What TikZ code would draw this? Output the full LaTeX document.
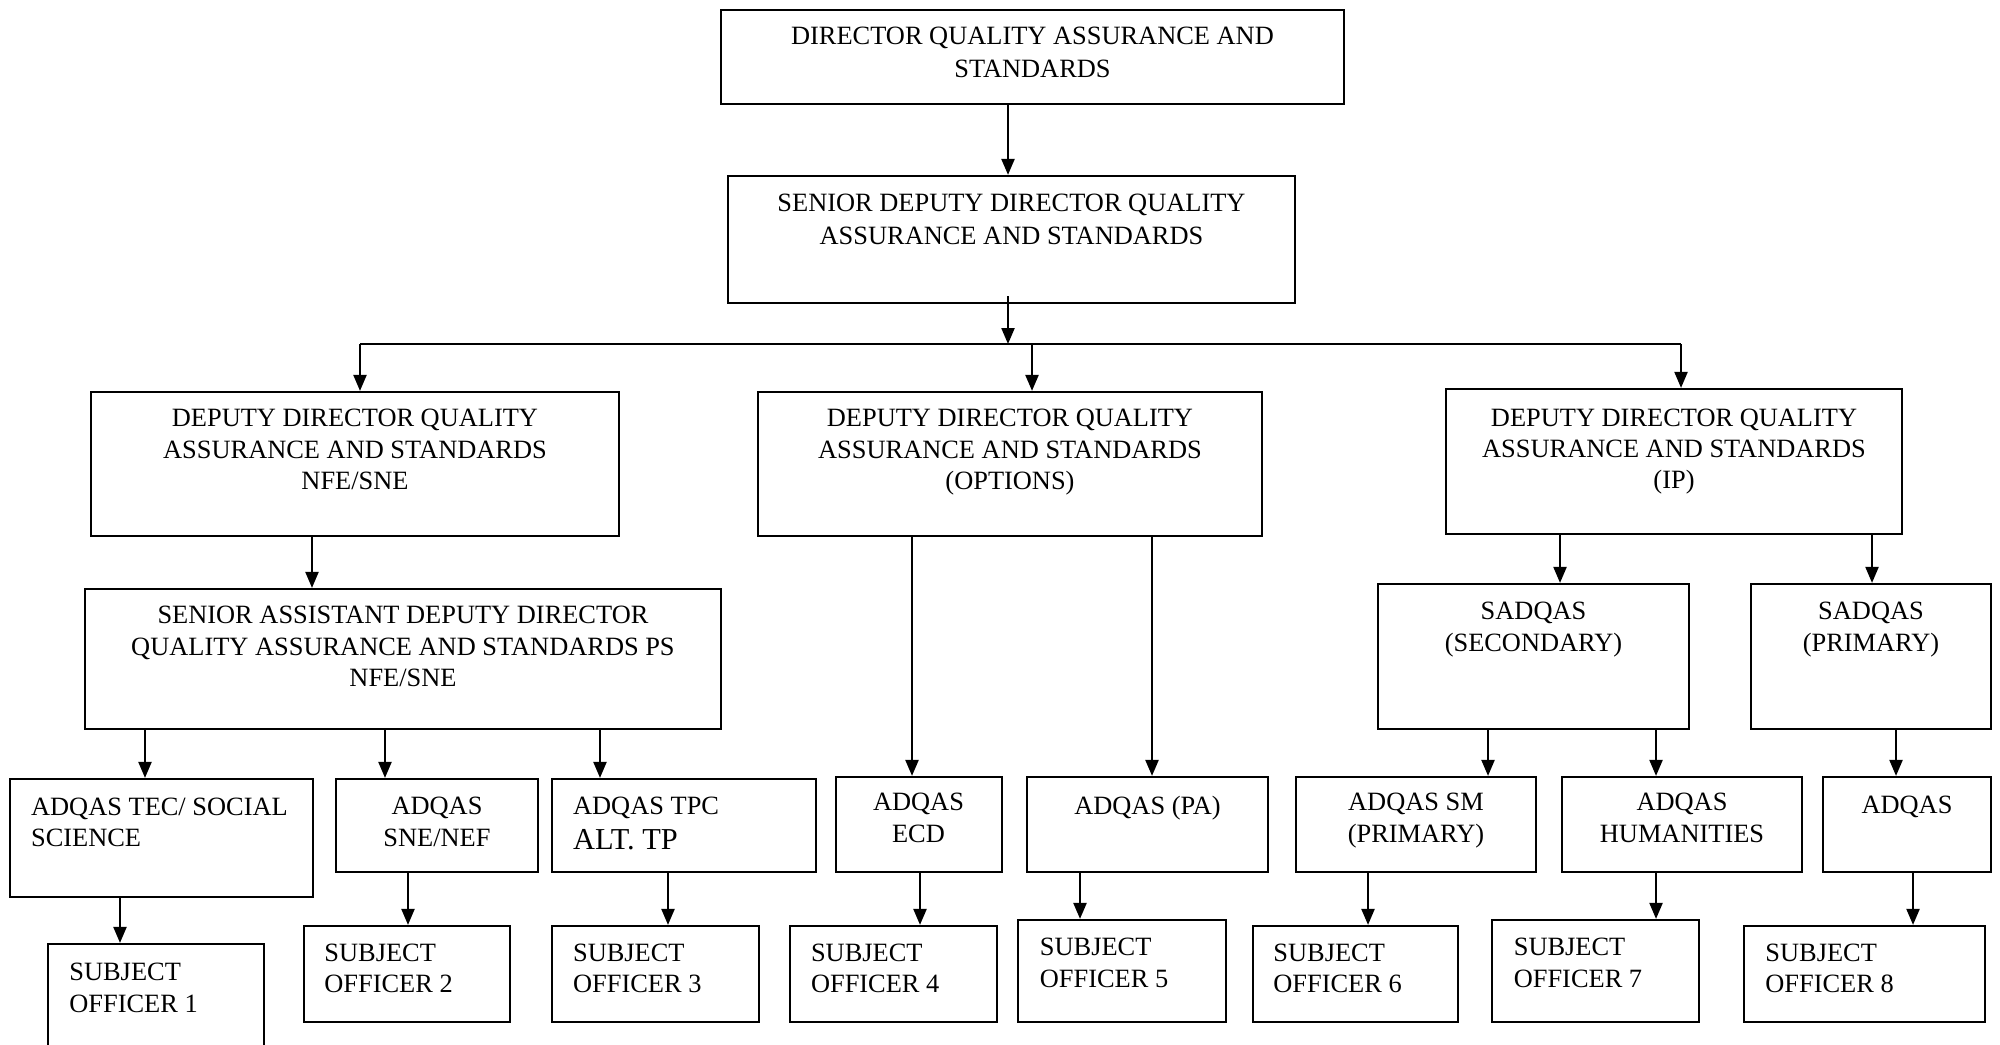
\documentclass[tikz,border=0pt]{standalone}
\usepackage{fontspec}
\setmainfont{Liberation Serif}
\usetikzlibrary{fit,arrows.meta}
\begin{document}
\begin{tikzpicture}[x=0.5pt,y=-0.5pt,
  box/.style={draw,line width=1.1pt,inner sep=0pt},
  arr/.style={line width=1.1pt,-{Triangle[length=8pt,width=6.5pt]}},
  ln/.style={line width=1.1pt},
  txt/.style={font=\fontsize{13.2}{15.6}\selectfont,align=center,inner sep=0pt,anchor=north},
  ltxt/.style={font=\fontsize{13.2}{15.6}\selectfont,align=left,inner sep=0pt,anchor=north west}]
\useasboundingbox (0,0) rectangle (2000,1044);
\clip (0,0) rectangle (2000,1044);
\fill[white] (0,0) rectangle (2000,1044);
% boxes
\node[box,fit={(721,10) (1344,104)}] (dir) {};
\node[box,fit={(728,176) (1295,303)}] (sdd) {};
\node[box,fit={(91,392) (619,536)}] (ddn) {};
\node[box,fit={(758,392) (1262,536)}] (ddo) {};
\node[box,fit={(1446,389) (1902,534)}] (ddi) {};
\node[box,fit={(85,589) (721,729)}] (sadd) {};
\node[box,fit={(1378,584) (1689,729)}] (sec) {};
\node[box,fit={(1751,584) (1991,729)}] (pri) {};
\node[box,fit={(10,779) (313,897)}] (tec) {};
\node[box,fit={(336,779) (538,872)}] (sne) {};
\node[box,fit={(552,779) (816,872)}] (tpc) {};
\node[box,fit={(836,777) (1002,872)}] (ecd) {};
\node[box,fit={(1027,777) (1268,872)}] (pa) {};
\node[box,fit={(1296,777) (1536,872)}] (sm) {};
\node[box,fit={(1562,777) (1802,872)}] (hum) {};
\node[box,fit={(1823,777) (1991,872)}] (adq) {};
\node[box,fit={(48,944) (264,1080)}] (so1) {};
\node[box,fit={(304,926) (510,1022)}] (so2) {};
\node[box,fit={(552,926) (759,1022)}] (so3) {};
\node[box,fit={(790,926) (997,1022)}] (so4) {};
\node[box,fit={(1018,920) (1226,1022)}] (so5) {};
\node[box,fit={(1253,926) (1458,1022)}] (so6) {};
\node[box,fit={(1492,920) (1699,1022)}] (so7) {};
\node[box,fit={(1744,926) (1985,1022)}] (so8) {};
% texts
\node[txt,font=\fontsize{13.2}{16.6}\selectfont] (tdir) at (1032.5,26.7) {DIRECTOR QUALITY ASSURANCE AND\\STANDARDS};
\node[txt,font=\fontsize{13.2}{16.3}\selectfont] (tsdd) at (1011.5,194) {SENIOR DEPUTY DIRECTOR QUALITY\\ASSURANCE AND STANDARDS};
\node[txt] (tddn) at (355,409) {DEPUTY DIRECTOR QUALITY\\ASSURANCE AND STANDARDS\\NFE/SNE};
\node[txt] (tddo) at (1010,409) {DEPUTY DIRECTOR QUALITY\\ASSURANCE AND STANDARDS\\(OPTIONS)};
\node[txt] (tddi) at (1674,408.5) {DEPUTY DIRECTOR QUALITY\\ASSURANCE AND STANDARDS\\(IP)};
\node[txt] (tsadd) at (403,606) {SENIOR ASSISTANT DEPUTY DIRECTOR\\QUALITY ASSURANCE AND STANDARDS PS\\NFE/SNE};
\node[txt] (tsec) at (1533.5,602) {SADQAS\\(SECONDARY)};
\node[txt] (tpri) at (1871,602) {SADQAS\\(PRIMARY)};
\node[ltxt] (ttec) at (30.7,797.3) {ADQAS TEC/ SOCIAL\\SCIENCE};
\node[txt] (tsne) at (437,797) {ADQAS\\SNE/NEF};
\node[ltxt] (ttpc) at (572.7,797) {ADQAS TPC\\[1.6pt]{\fontsize{15.2}{17}\selectfont ALT. TP}};
\node[txt] (tecd) at (918.5,793) {ADQAS\\ECD};
\node[txt] (tpa) at (1147.5,796) {ADQAS (PA)};
\node[txt] (tsm) at (1416,793) {ADQAS SM\\(PRIMARY)};
\node[txt] (thum) at (1682,793) {ADQAS\\HUMANITIES};
\node[txt] (tadq) at (1907,795.7) {ADQAS};
\node[ltxt] (tso1) at (69,963) {SUBJECT\\OFFICER 1};
\node[ltxt] (tso2) at (324,943.7) {SUBJECT\\OFFICER 2};
\node[ltxt] (tso3) at (572.7,943.7) {SUBJECT\\OFFICER 3};
\node[ltxt] (tso4) at (810.6,943.7) {SUBJECT\\OFFICER 4};
\node[ltxt] (tso5) at (1039.5,938) {SUBJECT\\OFFICER 5};
\node[ltxt] (tso6) at (1273,943.7) {SUBJECT\\OFFICER 6};
\node[ltxt] (tso7) at (1513.4,938) {SUBJECT\\OFFICER 7};
\node[ltxt] (tso8) at (1765,943.3) {SUBJECT\\OFFICER 8};
% connectors
\draw[arr] (dir.south -| 1008,0) -- (sdd.north -| 1008,0);
\coordinate (sddo) at (1008,296);
\coordinate (busL) at (360,344);
\coordinate (busM) at (1032,344);
\coordinate (busR) at (1681,344);
\coordinate (busC) at (1008,344);
\draw[ln] (busL) -- (busR);
\draw[arr] (sddo) -- (busC);
\draw[arr] (busL) -- (ddn.north -| busL);
\draw[arr] (busM) -- (ddo.north -| busM);
\draw[arr] (busR) -- (ddi.north -| busR);
\draw[arr] (ddn.south -| 312,0) -- (sadd.north -| 312,0);
\draw[arr] (sadd.south -| 145,0) -- (tec.north -| 145,0);
\draw[arr] (sadd.south -| 385,0) -- (sne.north -| 385,0);
\draw[arr] (sadd.south -| 600,0) -- (tpc.north -| 600,0);
\draw[arr] (ddo.south -| 912,0) -- (ecd.north -| 912,0);
\draw[arr] (ddo.south -| 1152,0) -- (pa.north -| 1152,0);
\draw[arr] (ddi.south -| 1560,0) -- (sec.north -| 1560,0);
\draw[arr] (ddi.south -| 1872,0) -- (pri.north -| 1872,0);
\draw[arr] (sec.south -| 1488,0) -- (sm.north -| 1488,0);
\draw[arr] (sec.south -| 1656,0) -- (hum.north -| 1656,0);
\draw[arr] (pri.south -| 1896,0) -- (adq.north -| 1896,0);
\draw[arr] (tec.south -| 120,0) -- (so1.north -| 120,0);
\draw[arr] (sne.south -| 408,0) -- (so2.north -| 408,0);
\draw[arr] (tpc.south -| 668,0) -- (so3.north -| 668,0);
\draw[arr] (ecd.south -| 920,0) -- (so4.north -| 920,0);
\draw[arr] (pa.south -| 1080,0) -- (so5.north -| 1080,0);
\draw[arr] (sm.south -| 1368,0) -- (so6.north -| 1368,0);
\draw[arr] (hum.south -| 1656,0) -- (so7.north -| 1656,0);
\draw[arr] (adq.south -| 1913,0) -- (so8.north -| 1913,0);
\end{tikzpicture}
\end{document}
